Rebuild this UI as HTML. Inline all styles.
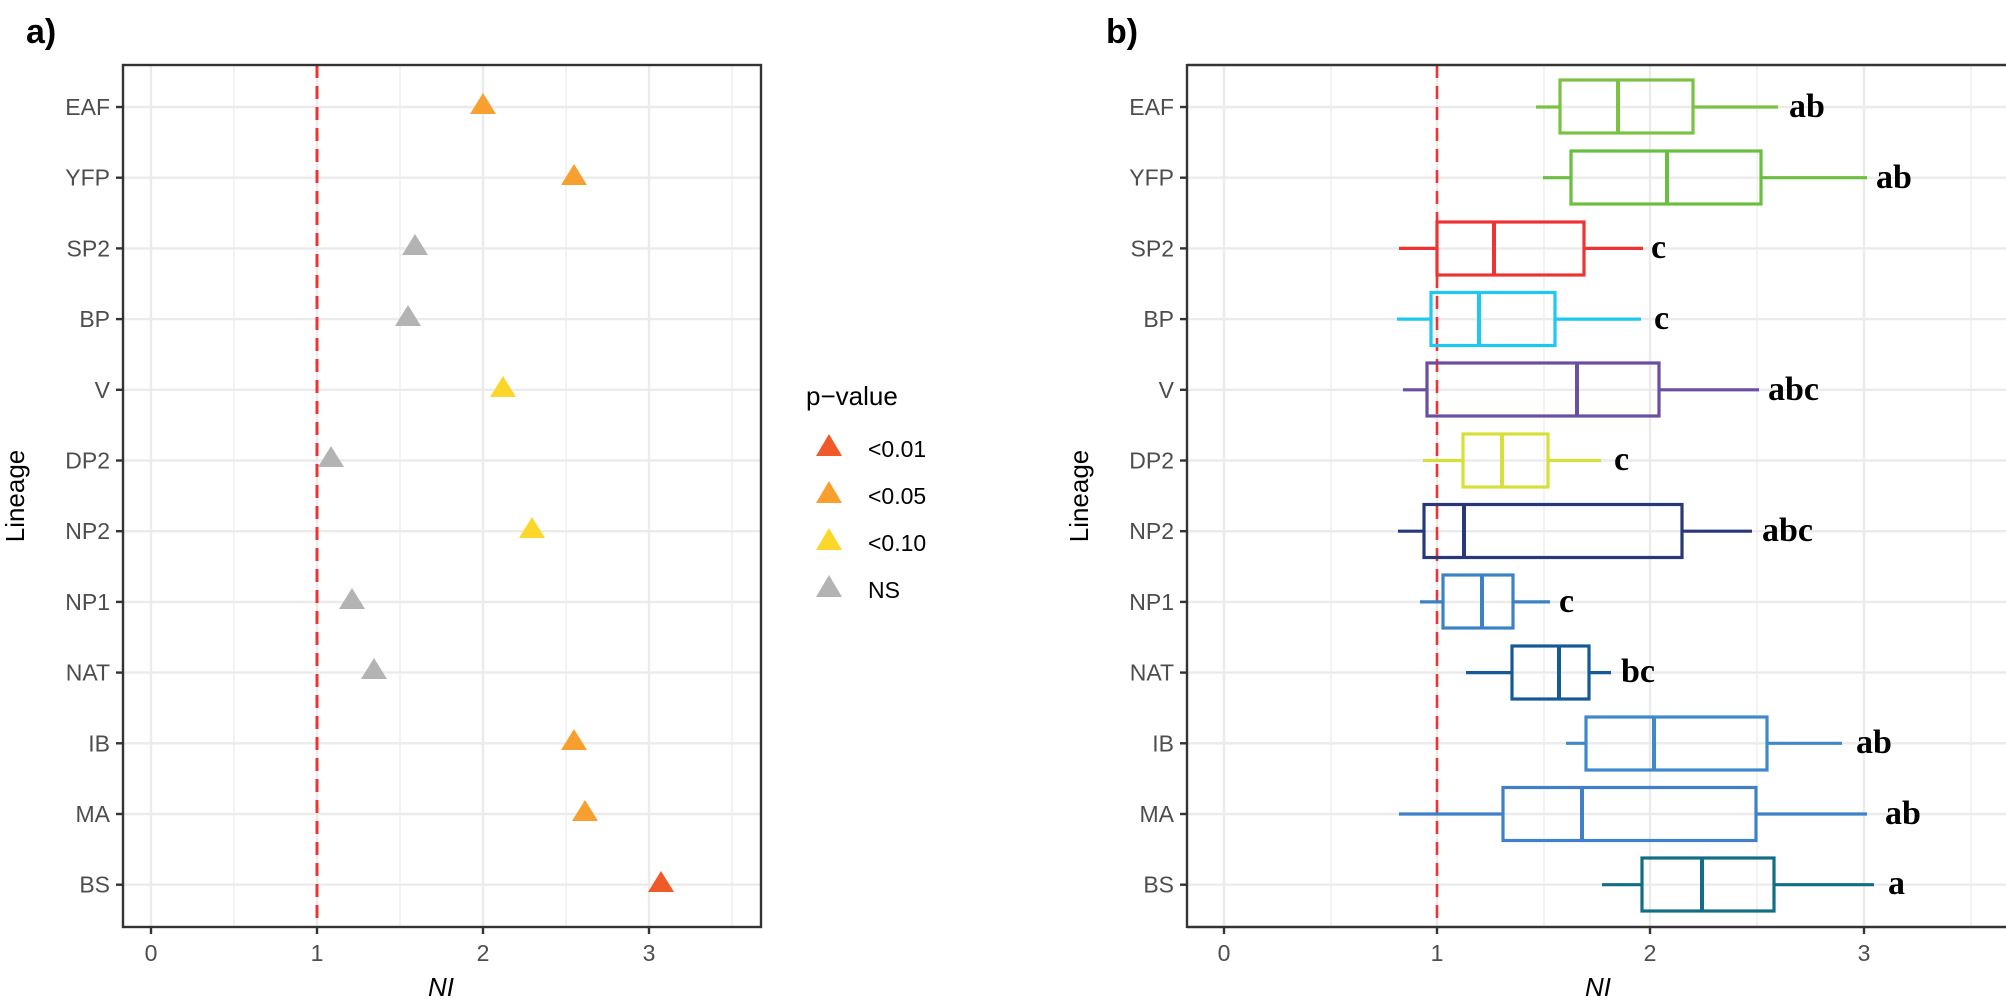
<!DOCTYPE html>
<html><head><meta charset="utf-8"><style>
html,body{margin:0;padding:0;background:#fff;}
svg{display:block;}
.yl{font-family:"Liberation Sans",sans-serif;font-size:23px;fill:#4d4d4d;text-anchor:end;}
.xl{font-family:"Liberation Sans",sans-serif;font-size:23px;fill:#4d4d4d;text-anchor:middle;}
.at{font-family:"Liberation Sans",sans-serif;font-size:26px;fill:#000;}
.pl{font-family:"Liberation Sans",sans-serif;font-size:34px;font-weight:bold;fill:#000;}
.lt{font-family:"Liberation Serif",serif;font-size:34px;font-weight:bold;fill:#000;}
.lg{font-family:"Liberation Sans",sans-serif;font-size:23px;fill:#000;}
</style></head><body>
<svg width="2006" height="1003" viewBox="0 0 2006 1003" xmlns="http://www.w3.org/2000/svg">
<text class="pl" x="26" y="43">a)</text>
<text class="pl" x="1106" y="43">b)</text>

<g id="pa">
<g stroke="#ebebeb" stroke-width="1.2">
<line x1="234" y1="65" x2="234" y2="927"/><line x1="400" y1="65" x2="400" y2="927"/><line x1="566" y1="65" x2="566" y2="927"/><line x1="732" y1="65" x2="732" y2="927"/>
</g>
<g stroke="#ebebeb" stroke-width="2.4">
<line x1="151" y1="65" x2="151" y2="927"/><line x1="317" y1="65" x2="317" y2="927"/><line x1="483" y1="65" x2="483" y2="927"/><line x1="649" y1="65" x2="649" y2="927"/>
<line x1="123" y1="107" x2="761" y2="107"/><line x1="123" y1="177.7" x2="761" y2="177.7"/><line x1="123" y1="248.4" x2="761" y2="248.4"/><line x1="123" y1="319.1" x2="761" y2="319.1"/><line x1="123" y1="389.8" x2="761" y2="389.8"/><line x1="123" y1="460.5" x2="761" y2="460.5"/><line x1="123" y1="531.2" x2="761" y2="531.2"/><line x1="123" y1="601.9" x2="761" y2="601.9"/><line x1="123" y1="672.6" x2="761" y2="672.6"/><line x1="123" y1="743.3" x2="761" y2="743.3"/><line x1="123" y1="814" x2="761" y2="814"/><line x1="123" y1="884.7" x2="761" y2="884.7"/>
</g>
<line x1="317" y1="65" x2="317" y2="927" stroke="#ee3333" stroke-width="3" stroke-dasharray="13,8"/>
<g>
<polygon points="483,93 470,114 496,114" fill="#f7a030"/>
<polygon points="574,164 561,185 587,185" fill="#f7a030"/>
<polygon points="415,234 402,255 428,255" fill="#b3b3b3"/>
<polygon points="408,305 395,326 421,326" fill="#b3b3b3"/>
<polygon points="503,376 490,397 516,397" fill="#fcd72a"/>
<polygon points="331,446 318,467 344,467" fill="#b3b3b3"/>
<polygon points="532,517 519,538 545,538" fill="#fcd72a"/>
<polygon points="352,588 339,609 365,609" fill="#b3b3b3"/>
<polygon points="374,658 361,679 387,679" fill="#b3b3b3"/>
<polygon points="574,729 561,750 587,750" fill="#f7a030"/>
<polygon points="585,800 572,821 598,821" fill="#f7a030"/>
<polygon points="661,871 648,892 674,892" fill="#f05a28"/>
</g>
<rect x="123" y="65" width="638" height="862" fill="none" stroke="#333" stroke-width="2.4"/>
<g stroke="#333" stroke-width="2.4">
<line x1="116" y1="107" x2="123" y2="107"/><line x1="116" y1="177.7" x2="123" y2="177.7"/><line x1="116" y1="248.4" x2="123" y2="248.4"/><line x1="116" y1="319.1" x2="123" y2="319.1"/><line x1="116" y1="389.8" x2="123" y2="389.8"/><line x1="116" y1="460.5" x2="123" y2="460.5"/><line x1="116" y1="531.2" x2="123" y2="531.2"/><line x1="116" y1="601.9" x2="123" y2="601.9"/><line x1="116" y1="672.6" x2="123" y2="672.6"/><line x1="116" y1="743.3" x2="123" y2="743.3"/><line x1="116" y1="814" x2="123" y2="814"/><line x1="116" y1="884.7" x2="123" y2="884.7"/>
<line x1="151" y1="927" x2="151" y2="934"/><line x1="317" y1="927" x2="317" y2="934"/><line x1="483" y1="927" x2="483" y2="934"/><line x1="649" y1="927" x2="649" y2="934"/>
</g>
<g class="yl">
<text x="110" y="115">EAF</text><text x="110" y="185.7">YFP</text><text x="110" y="256.4">SP2</text><text x="110" y="327.1">BP</text><text x="110" y="397.8">V</text><text x="110" y="468.5">DP2</text><text x="110" y="539.2">NP2</text><text x="110" y="609.9">NP1</text><text x="110" y="680.6">NAT</text><text x="110" y="751.3">IB</text><text x="110" y="822">MA</text><text x="110" y="892.7">BS</text>
</g>
<g class="xl"><text x="151" y="961">0</text><text x="317" y="961">1</text><text x="483" y="961">2</text><text x="649" y="961">3</text></g>
<text class="at" x="441" y="996" text-anchor="middle" font-style="italic">NI</text>
<text class="at" transform="translate(24,496) rotate(-90)" text-anchor="middle">Lineage</text>
<text class="at" x="806" y="405">p−value</text>
<polygon points="829,434 816,456 842,456" fill="#f05a28"/>
<polygon points="829,481 816,503 842,503" fill="#f7a030"/>
<polygon points="829,528 816,550 842,550" fill="#fcd72a"/>
<polygon points="829,575 816,597 842,597" fill="#b3b3b3"/>
<text class="lg" x="868" y="457">&lt;0.01</text>
<text class="lg" x="868" y="504">&lt;0.05</text>
<text class="lg" x="868" y="551">&lt;0.10</text>
<text class="lg" x="868" y="598">NS</text>
</g>

<g id="pb">
<g stroke="#ebebeb" stroke-width="1.2">
<line x1="1331" y1="65" x2="1331" y2="927"/><line x1="1544" y1="65" x2="1544" y2="927"/><line x1="1757" y1="65" x2="1757" y2="927"/><line x1="1971" y1="65" x2="1971" y2="927"/>
</g>
<g stroke="#ebebeb" stroke-width="2.4">
<line x1="1224" y1="65" x2="1224" y2="927"/><line x1="1437" y1="65" x2="1437" y2="927"/><line x1="1650" y1="65" x2="1650" y2="927"/><line x1="1864" y1="65" x2="1864" y2="927"/>
<line x1="1188" y1="107" x2="2006" y2="107"/><line x1="1188" y1="177.7" x2="2006" y2="177.7"/><line x1="1188" y1="248.4" x2="2006" y2="248.4"/><line x1="1188" y1="319.1" x2="2006" y2="319.1"/><line x1="1188" y1="389.8" x2="2006" y2="389.8"/><line x1="1188" y1="460.5" x2="2006" y2="460.5"/><line x1="1188" y1="531.2" x2="2006" y2="531.2"/><line x1="1188" y1="601.9" x2="2006" y2="601.9"/><line x1="1188" y1="672.6" x2="2006" y2="672.6"/><line x1="1188" y1="743.3" x2="2006" y2="743.3"/><line x1="1188" y1="814" x2="2006" y2="814"/><line x1="1188" y1="884.7" x2="2006" y2="884.7"/>
</g>
<line x1="1437" y1="65" x2="1437" y2="927" stroke="#ee3333" stroke-width="2.6" stroke-dasharray="13,8"/>
<g fill="none" stroke-width="3.2">
<g stroke="#7cc242"><line x1="1536" y1="107" x2="1560" y2="107"/><line x1="1693" y1="107" x2="1778" y2="107"/><rect x="1560" y="80" width="133" height="53"/><line x1="1618" y1="80" x2="1618" y2="133" stroke-width="4"/></g>
<g stroke="#6abf40"><line x1="1543" y1="177.7" x2="1571" y2="177.7"/><line x1="1761" y1="177.7" x2="1867" y2="177.7"/><rect x="1571" y="151" width="190" height="53"/><line x1="1667" y1="151" x2="1667" y2="204" stroke-width="4"/></g>
<g stroke="#ee3333"><line x1="1399" y1="248.4" x2="1437" y2="248.4"/><line x1="1584" y1="248.4" x2="1643" y2="248.4"/><rect x="1437" y="222" width="147" height="53"/><line x1="1494" y1="222" x2="1494" y2="275" stroke-width="4"/></g>
<g stroke="#1ec8f0"><line x1="1397" y1="319.1" x2="1431" y2="319.1"/><line x1="1555" y1="319.1" x2="1641" y2="319.1"/><rect x="1431" y="292.5" width="124" height="53"/><line x1="1479" y1="292.5" x2="1479" y2="345.5" stroke-width="4"/></g>
<g stroke="#6a4fa0"><line x1="1403" y1="389.8" x2="1427" y2="389.8"/><line x1="1659" y1="389.8" x2="1759" y2="389.8"/><rect x="1427" y="363" width="232" height="53"/><line x1="1577" y1="363" x2="1577" y2="416" stroke-width="4"/></g>
<g stroke="#d6e03a"><line x1="1423" y1="460.5" x2="1463" y2="460.5"/><line x1="1548" y1="460.5" x2="1601" y2="460.5"/><rect x="1463" y="434" width="85" height="53"/><line x1="1502" y1="434" x2="1502" y2="487" stroke-width="4"/></g>
<g stroke="#283878"><line x1="1398" y1="531.2" x2="1424" y2="531.2"/><line x1="1682" y1="531.2" x2="1752" y2="531.2"/><rect x="1424" y="504.5" width="258" height="53"/><line x1="1464" y1="504.5" x2="1464" y2="557.5" stroke-width="4"/></g>
<g stroke="#3b82c4"><line x1="1420" y1="601.9" x2="1443" y2="601.9"/><line x1="1513" y1="601.9" x2="1550" y2="601.9"/><rect x="1443" y="575" width="70" height="53"/><line x1="1482" y1="575" x2="1482" y2="628" stroke-width="4"/></g>
<g stroke="#145a96"><line x1="1466" y1="672.6" x2="1512" y2="672.6"/><line x1="1589" y1="672.6" x2="1611" y2="672.6"/><rect x="1512" y="646" width="77" height="53"/><line x1="1559" y1="646" x2="1559" y2="699" stroke-width="4"/></g>
<g stroke="#4088cc"><line x1="1566" y1="743.3" x2="1586" y2="743.3"/><line x1="1767" y1="743.3" x2="1842" y2="743.3"/><rect x="1586" y="717" width="181" height="53"/><line x1="1654" y1="717" x2="1654" y2="770" stroke-width="4"/></g>
<g stroke="#3f80c8"><line x1="1399" y1="814" x2="1503" y2="814"/><line x1="1756" y1="814" x2="1867" y2="814"/><rect x="1503" y="787.5" width="253" height="53"/><line x1="1582" y1="787.5" x2="1582" y2="840.5" stroke-width="4"/></g>
<g stroke="#126e86"><line x1="1602" y1="884.7" x2="1642" y2="884.7"/><line x1="1774" y1="884.7" x2="1874" y2="884.7"/><rect x="1642" y="858" width="132" height="53"/><line x1="1702" y1="858" x2="1702" y2="911" stroke-width="4"/></g>
</g>
<g class="lt">
<text x="1789" y="117">ab</text><text x="1876" y="188">ab</text><text x="1651" y="258">c</text><text x="1654" y="329">c</text><text x="1768" y="400">abc</text><text x="1614" y="470">c</text><text x="1762" y="541">abc</text><text x="1559" y="612">c</text><text x="1621" y="682">bc</text><text x="1856" y="753">ab</text><text x="1885" y="824">ab</text><text x="1888" y="894">a</text>
</g>
<line x1="1187" y1="65" x2="2006" y2="65" stroke="#333" stroke-width="2.4"/>
<line x1="1187" y1="927" x2="2006" y2="927" stroke="#333" stroke-width="2.4"/>
<line x1="1187" y1="64" x2="1187" y2="928" stroke="#333" stroke-width="2.4"/>
<g stroke="#333" stroke-width="2.4">
<line x1="1180" y1="107" x2="1187" y2="107"/><line x1="1180" y1="177.7" x2="1187" y2="177.7"/><line x1="1180" y1="248.4" x2="1187" y2="248.4"/><line x1="1180" y1="319.1" x2="1187" y2="319.1"/><line x1="1180" y1="389.8" x2="1187" y2="389.8"/><line x1="1180" y1="460.5" x2="1187" y2="460.5"/><line x1="1180" y1="531.2" x2="1187" y2="531.2"/><line x1="1180" y1="601.9" x2="1187" y2="601.9"/><line x1="1180" y1="672.6" x2="1187" y2="672.6"/><line x1="1180" y1="743.3" x2="1187" y2="743.3"/><line x1="1180" y1="814" x2="1187" y2="814"/><line x1="1180" y1="884.7" x2="1187" y2="884.7"/>
<line x1="1224" y1="927" x2="1224" y2="934"/><line x1="1437" y1="927" x2="1437" y2="934"/><line x1="1650" y1="927" x2="1650" y2="934"/><line x1="1864" y1="927" x2="1864" y2="934"/>
</g>
<g class="yl">
<text x="1174" y="115">EAF</text><text x="1174" y="185.7">YFP</text><text x="1174" y="256.4">SP2</text><text x="1174" y="327.1">BP</text><text x="1174" y="397.8">V</text><text x="1174" y="468.5">DP2</text><text x="1174" y="539.2">NP2</text><text x="1174" y="609.9">NP1</text><text x="1174" y="680.6">NAT</text><text x="1174" y="751.3">IB</text><text x="1174" y="822">MA</text><text x="1174" y="892.7">BS</text>
</g>
<g class="xl"><text x="1224" y="961">0</text><text x="1437" y="961">1</text><text x="1650" y="961">2</text><text x="1864" y="961">3</text></g>
<text class="at" x="1598" y="996" text-anchor="middle" font-style="italic">NI</text>
<text class="at" transform="translate(1088,496) rotate(-90)" text-anchor="middle">Lineage</text>
</g>
</svg>
</body></html>
